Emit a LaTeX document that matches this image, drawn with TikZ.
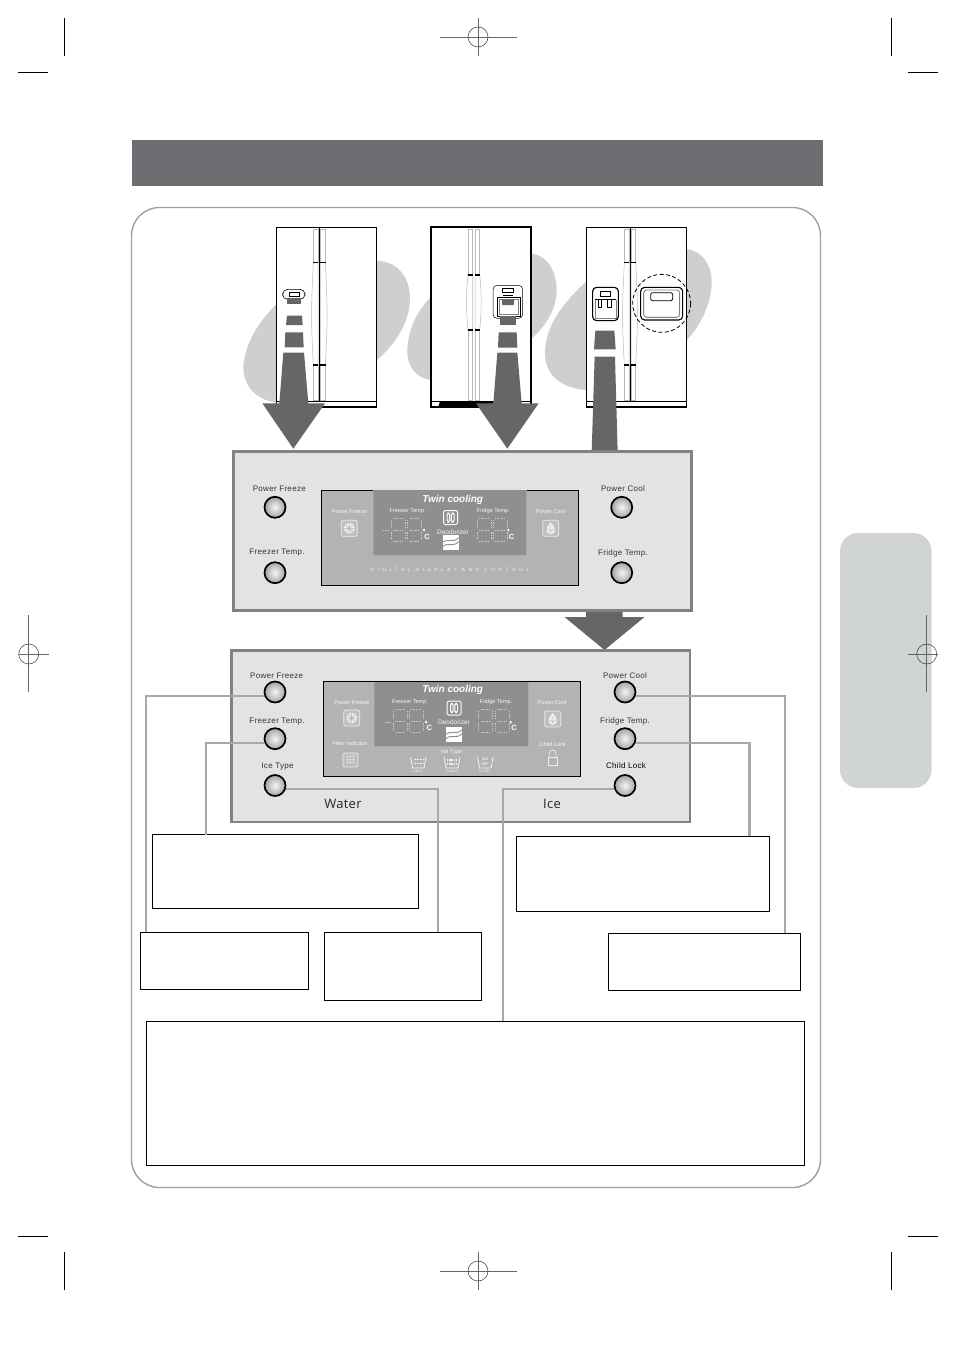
\documentclass[tikz,border=0pt]{standalone}
\usepackage{fontspec}
\setmainfont{Liberation Sans}
\newfontfamily\lblfont[LetterSpace=4]{Liberation Sans}
\newfontfamily\widefont[LetterSpace=75]{Liberation Sans}
\newfontfamily\pfont[LetterSpace=2]{Open Sans}
\definecolor{arrowgrey}{HTML}{666666}
\definecolor{blobgrey}{HTML}{CFCFCF}
\definecolor{panelfill}{HTML}{E3E3E3}
\definecolor{panelline}{HTML}{828282}
\definecolor{dispfill}{HTML}{B3B3B3}
\definecolor{dispdark}{HTML}{8F8F8F}
\definecolor{headbar}{HTML}{6D6E71}
\definecolor{tabfill}{HTML}{D1D4D4}
\definecolor{connline}{HTML}{A8A8A8}
\definecolor{disptext}{HTML}{F6F6F6}
\definecolor{segcol}{HTML}{CCCCCC}
\definecolor{edgedot}{HTML}{A4A4A4}
\tikzset{
  panelbox/.style={draw=panelline,line width=2.6pt,fill=panelfill},
  dispbox/.style={draw=black,line width=.8pt,fill=dispfill},
  btn/.style={circle,draw=black,line width=1.7pt,minimum size=21pt,inner sep=0pt,inner color=gray!8,outer color=gray!72},
  conn/.style={draw=connline,line width=2.1pt},
  notebox/.style={draw=black,line width=.5pt,fill=white,inner sep=0pt,outer sep=0pt},
  plabel/.style={font=\lblfont\fontsize{8}{9}\selectfont,text=black!80,inner sep=0pt},
  dlabel/.style={font=\fontsize{5.6}{6}\selectfont,text=disptext,inner sep=0pt},
  deolabel/.style={font=\fontsize{6.5}{7}\selectfont,text=disptext,inner sep=0pt},
  tinylabel/.style={font=\fontsize{3.4}{4}\selectfont,text=disptext,inner sep=0pt},
  cellabel/.style={font=\bfseries\fontsize{7.5}{8}\selectfont,text=white,inner sep=0pt},
  twinlabel/.style={font=\bfseries\itshape\fontsize{10}{11}\selectfont,text=white,inner sep=0pt},
  segline/.style={draw=segcol,line width=.7pt,dash pattern=on .9pt off .8pt},
  edgeline/.style={draw=edgedot,line width=.7pt,dash pattern=on .8pt off .8pt},
  iconline/.style={draw=gray!15,line width=.7pt},
  handleline/.style={draw=gray!55,line width=.5pt},
  tick/.style={draw=black,line width=1.1pt},
  cropmark/.style={draw=black,line width=.8pt},
  regline/.style={draw=gray!80!black,line width=.7pt},
  regring/.style={draw=black!80,line width=.5pt,dash pattern=on 1.3pt off .2pt},
}
\newcount\tcnt
\newcommand\lbl[3][plabel]{\global\advance\tcnt by 1 \node[#1] (t\the\tcnt) at (#2) {#3};}
% dotted digit: x,y,w,h
\newcommand\segdigit[4]{\draw[segline]
  (#1+2,#2) -- (#1+#3-2,#2) (#1+2,#2+#4/2) -- (#1+#3-2,#2+#4/2) (#1+2,#2+#4) -- (#1+#3-2,#2+#4)
  (#1,#2+1.5) -- (#1,#2+#4/2-1.5) (#1,#2+#4/2+1.5) -- (#1,#2+#4-1.5)
  (#1+#3,#2+1.5) -- (#1+#3,#2+#4/2-1.5) (#1+#3,#2+#4/2+1.5) -- (#1+#3,#2+#4-1.5);}
\newcommand\regmark[2]{\draw[regline] (#1-10,#2) -- (#1+20,#2) (#1,#2-39) -- (#1,#2+38);\draw[regring] (#1,#2) circle (10);}
\newcommand\regmarkc[2]{\draw[regline] (#1-38,#2) -- (#1+39,#2) (#1,#2-19) -- (#1,#2+19);\draw[regring] (#1,#2) circle (10);}
\newcommand\regmarkr[2]{\draw[regline] (#1-19,#2) -- (#1+11,#2) (#1,#2-39) -- (#1,#2+38);\draw[regring] (#1,#2) circle (10);}
\newcommand\flakeicon[2]{%
  \draw[iconline,fill=gray!50,rounded corners=2pt] (#1-8,#2-8) rectangle (#1+8,#2+8);
  \fill[gray!15] (#1,#2) circle (5.5);
  \draw[gray!60,line width=.5pt] (#1-5,#2) -- (#1+5,#2) (#1,#2-5) -- (#1,#2+5) (#1-3.5,#2-3.5) -- (#1+3.5,#2+3.5) (#1-3.5,#2+3.5) -- (#1+3.5,#2-3.5);}
\newcommand\dropicon[2]{%
  \draw[iconline,fill=gray!50,rounded corners=2pt] (#1-8,#2-8) rectangle (#1+8,#2+8);
  \fill[gray!15] (#1,#2-6) .. controls (#1+7,#2+1) and (#1+4,#2+6) .. (#1,#2+6) .. controls (#1-4,#2+6) and (#1-7,#2+1) .. (#1,#2-6) -- cycle;
  \draw[gray!60,line width=.4pt] (#1,#2-3) -- (#1,#2+5) (#1-3,#2+1) -- (#1,#2+3) -- (#1+3,#2+1);}
\newcommand\deoicon[2]{%
  \draw[draw=white,line width=1pt,rounded corners=1.5pt] (#1-7,#2-7) rectangle (#1+7,#2+7);
  \draw[white,line width=1pt,rounded corners=1.5pt] (#1-3.5,#2-4.5) rectangle (#1-.8,#2+4.5) (#1+.8,#2-4.5) rectangle (#1+3.5,#2+4.5);}
\newcommand\swoosh[2]{%
  \fill[white] (#1-8,#2-7.5) rectangle (#1+8,#2+7.5);
  \draw[dispdark,line width=.9pt] (#1-8,#2-.5) .. controls (#1-3,#2-5) and (#1+2,#2+1) .. (#1+8,#2-5)
     (#1-8,#2+4) .. controls (#1-3,#2-1) and (#1+2,#2+5) .. (#1+8,#2-1);}
\newcommand\tempblock[3]{\segdigit{#1}{#2}{14}{23}\segdigit{#3}{#2}{14}{23}}
\begin{document}
\begin{tikzpicture}[x=1pt,y=-1pt]
\useasboundingbox (0,0) rectangle (954,1351);
\fill[white] (0,0) rectangle (954,1351);

% side tab and header
\fill[tabfill,rounded corners=18pt] (840,533) rectangle (931.5,788);
\fill[headbar] (132,140) rectangle (823,186);

% frame
\draw[draw=gray!75,line width=1.4pt,rounded corners=28pt] (131.5,207.5) rectangle (820.5,1187.5);

% crop marks
\draw[cropmark] (64,18) -- (64,56) (18,72) -- (48,72) (891,18) -- (891,56) (908,72) -- (938,72);
\draw[cropmark] (64,1252) -- (64,1290) (18,1236) -- (48,1236) (891,1252) -- (891,1290) (908,1236) -- (938,1236);
\regmarkc{478}{37}
\regmarkc{478}{1271}
\regmark{28.7}{654}
\regmarkr{926.7}{654}

% fridges, drawn in zoom coordinates of the top region
\begin{scope}[shift={(230,210)},scale=0.33333]
  \fill[blobgrey] (40,470) .. controls (45,390) and (100,320) .. (139,283) .. controls (230,200) and (350,150) .. (440,152) .. controls (510,155) and (540,210) .. (540,265) .. controls (540,340) and (490,410) .. (440,450) .. controls (350,530) and (240,590) .. (139,578) .. controls (80,570) and (40,530) .. (40,470) -- cycle;
  \fill[blobgrey] (532,420) .. controls (535,350) and (565,300) .. (602,262) .. controls (680,190) and (800,130) .. (905,132) .. controls (955,135) and (980,190) .. (980,240) .. controls (980,300) and (945,350) .. (905,385) .. controls (820,460) and (700,520) .. (602,510) .. controls (560,505) and (530,470) .. (532,420) -- cycle;
  \fill[blobgrey] (945,430) .. controls (945,340) and (1010,270) .. (1068,215) .. controls (1150,150) and (1280,115) .. (1370,118) .. controls (1420,122) and (1445,170) .. (1445,215) .. controls (1445,280) and (1410,350) .. (1370,390) .. controls (1290,470) and (1180,550) .. (1068,540) .. controls (1000,535) and (945,500) .. (945,430) -- cycle;
  % fridge 1
  \draw[black,line width=.8pt,fill=white] (139,52) rectangle (440,590);
  \draw[black,line width=.8pt] (139,575) -- (440,575);
  \draw[black,line width=1.8pt] (139,590) -- (440,590);
  \draw[black,line width=.6pt] (268,52) -- (268,575);
  \draw[handleline] (250,58) rectangle (264,158) (272,58) rectangle (286,158) (250,465) rectangle (264,570) (272,465) rectangle (286,570);
  \draw[handleline] (250,158) .. controls (243,300) and (243,330) .. (250,465) (264,158) -- (264,465) (272,158) -- (272,465) (286,158) .. controls (293,300) and (293,330) .. (286,465);
  \draw[tick] (249,158) -- (265,158) (271,158) -- (287,158) (249,465) -- (265,465) (271,465) -- (287,465);
  \draw[black,line width=.6pt,fill=white,rounded corners=5pt] (158,238) rectangle (225,268);
  \draw[black,line width=.7pt] (178,246) rectangle (208,260);
  % fridge 2
  \draw[black,line width=2pt,fill=white] (602,50) rectangle (904,590);
  \fill[black] (630,575) -- (790,575) -- (790,590) -- (625,590) -- cycle;
  \draw[black,line width=.6pt] (602,575) -- (904,575);
  \draw[handleline] (714,58) rectangle (728,195) (735,58) rectangle (749,195) (714,360) rectangle (728,570) (735,360) rectangle (749,570);
  \draw[handleline] (714,195) .. controls (708,250) and (708,300) .. (714,360) (728,195) -- (728,360) (735,195) -- (735,360) (749,195) .. controls (755,250) and (755,300) .. (749,360);
  \draw[tick] (713,195) -- (729,195) (734,195) -- (750,195) (713,360) -- (729,360) (734,360) -- (750,360);
  \draw[black,line width=.5pt,fill=white,rounded corners=4pt] (789,226) rectangle (878,325);
  \draw[black,line width=.8pt] (818,236) rectangle (850,248);
  \draw[black,line width=.5pt] (818,256) -- (850,256);
  \draw[black,line width=.9pt,fill=white] (802,262) rectangle (870,318);
  \draw[gray,line width=.4pt] (808,268) rectangle (864,312);
  \fill[arrowgrey] (815,268) -- (853,268) -- (851,285) -- (817,285) -- cycle;
  % fridge 3
  \draw[black,line width=.8pt,fill=white] (1069,52) rectangle (1370,590);
  \draw[black,line width=.8pt] (1069,575) -- (1370,575);
  \draw[black,line width=1.8pt] (1069,590) -- (1370,590);
  \draw[black,line width=.6pt] (1200,52) -- (1200,575);
  \draw[handleline] (1183,58) rectangle (1197,158) (1203,58) rectangle (1217,158) (1183,465) rectangle (1197,570) (1203,465) rectangle (1217,570);
  \draw[handleline] (1183,158) .. controls (1176,300) and (1176,330) .. (1183,465) (1197,158) -- (1197,465) (1203,158) -- (1203,465) (1217,158) .. controls (1224,300) and (1224,330) .. (1217,465);
  \draw[tick] (1182,158) -- (1198,158) (1202,158) -- (1218,158) (1182,465) -- (1198,465) (1202,465) -- (1218,465);
  \draw[black,line width=1.1pt,fill=white,rounded corners=4pt] (1088,232) rectangle (1165,332);
  \draw[black,line width=.5pt] (1110,245) rectangle (1140,258) (1094,267) -- (1159,267);
  \draw[gray,line width=.4pt] (1095,270) -- (1095,325) -- (1158,325) -- (1158,270);
  \draw[black,line width=.8pt] (1105,270) -- (1105,292) -- (1115,292) -- (1115,270) (1133,270) -- (1133,292) -- (1143,292) -- (1143,270);
  \draw[black,line width=1.1pt,fill=white,rounded corners=4pt] (1232,232) rectangle (1358,330);
  \draw[gray,line width=.9pt,rounded corners=3pt] (1241,240) rectangle (1349,322);
  \draw[black,line width=.8pt,rounded corners=2pt] (1262,248) rectangle (1328,272);
  \draw[black,line width=.8pt,dash pattern=on 4pt off 2.4pt] (1295,280) circle (87);
  % arrows
  \fill[arrowgrey] (172,265) -- (214,265) -- (214,283) -- (172,283) -- cycle;
  \fill[arrowgrey] (171,317) -- (216,317) -- (218,345) -- (168,345) -- cycle;
  \fill[arrowgrey] (166,367) -- (219,367) -- (221,412) -- (164,412) -- cycle;
  \fill[arrowgrey] (160,428) -- (222,428) -- (235,580) -- (285,580) -- (190,716) -- (97,580) -- (148,580) -- cycle;
  \fill[arrowgrey] (811,318) -- (858,318) -- (858,344) -- (811,344) -- cycle;
  \fill[arrowgrey] (806,367) -- (860,367) -- (862,413) -- (804,413) -- cycle;
  \fill[arrowgrey] (802,428) -- (862,428) -- (875,580) -- (926,580) -- (832,716) -- (738,580) -- (790,580) -- cycle;
  \fill[arrowgrey] (1096,362) -- (1153,362) -- (1157,418) -- (1092,418) -- cycle;
  \fill[arrowgrey] (1094,440) -- (1155,440) -- (1163,725) -- (1085,725) -- cycle;
\end{scope}

% panel 1
\draw[panelbox] (233.3,451.5) rectangle (691.5,610.7);
\fill[arrowgrey] (586,612) -- (622.7,612) -- (622.7,617) -- (644.5,617) -- (604.5,650) -- (564.5,617) -- (586,617) -- cycle;
\draw[dispbox] (321.3,490) rectangle (578.7,585);
\fill[dispdark] (373.3,490.4) rectangle (526,555);
\draw[edgeline] (373.3,490.4) -- (373.3,555) -- (526,555) -- (526,490.4);
\node[btn] (a1) at (275,507.3) {};
\node[btn] (a2) at (275,572.7) {};
\node[btn] (a3) at (621.7,507.3) {};
\node[btn] (a4) at (621.7,572.7) {};
\lbl{279.3,488.7}{Power Freeze}
\lbl{277,553}{Freezer Temp.}
\lbl{623,488.7}{Power Cool}
\lbl{623,553}{Fridge Temp.}
\lbl[twinlabel]{452.7,499.5}{Twin cooling}
\lbl[dlabel]{349.3,511.5}{Power Freeze}
\lbl[dlabel]{407.7,511.5}{Freezer Temp.}
\lbl[dlabel]{493.3,511.5}{Fridge Temp.}
\lbl[dlabel]{550.7,511.5}{Power Cool}
\lbl[deolabel]{453,532.3}{Deodorizer}
\flakeicon{349.3}{528.3}
\dropicon{550.7}{528.3}
\deoicon{450.5}{517.5}
\swoosh{450.7}{542.7}
\tempblock{391}{518.5}{407.5}
\tempblock{477}{518.5}{493}
\draw[segline] (383,530) -- (388.5,530);
\fill[white] (424,530) circle (1.3) (508.3,530) circle (1.3);
\lbl[cellabel]{427,537.3}{C}
\lbl[cellabel]{511.7,537.3}{C}
\lbl[{font=\widefont\fontsize{4.8}{5}\selectfont,text=disptext,inner sep=0pt}]{450,570}{DIGITAL DISPLAY AND CONTROL}

% panel 2
\draw[panelbox] (231.7,650.3) rectangle (690,822);
\draw[dispbox] (323.3,681.3) rectangle (580.7,776.3);
\fill[dispdark] (374,681.7) rectangle (528.3,746.3);
\draw[edgeline] (374,681.7) -- (374,746.3) -- (528.3,746.3) -- (528.3,681.7);
\lbl[twinlabel]{452.7,689.5}{Twin cooling}
\lbl[dlabel]{351.7,702.3}{Power Freeze}
\lbl[dlabel]{410,702.3}{Freezer Temp.}
\lbl[dlabel]{496,702.3}{Fridge Temp.}
\lbl[dlabel]{552,702.3}{Power Cool}
\lbl[deolabel]{454,722}{Deodorizer}
\lbl[dlabel]{350,743.7}{Filter Indicator}
\lbl[dlabel]{552.7,744.7}{Child Lock}
\lbl[dlabel]{451.7,752.3}{Ice Type}
\flakeicon{351.7}{718}
\dropicon{552.7}{719}
\deoicon{454}{708}
\swoosh{454}{734.7}
\tempblock{393.3}{709.7}{409}
\tempblock{478.5}{709.7}{495}
\draw[segline] (385,722) -- (391.5,722);
\fill[white] (426,722) circle (1.3) (510.7,722) circle (1.3);
\lbl[cellabel]{429.3,728}{C}
\lbl[cellabel]{514,728}{C}
% filter icon
\draw[iconline,fill=gray!50,rounded corners=2pt] (343,753) rectangle (358,767);
\foreach \i in {-3,0,3} \foreach \j in {-3,0,3} \fill[gray!10] (350.5+\i,759.5+\j) circle (.8);
% lock icon
\draw[iconline] (548,757) rectangle (557,765);
\draw[iconline] (549,757) -- (549,753.5) arc[start angle=180,end angle=360,radius=3.5] -- (556,757);
% ice icons
\draw[gray!10,line width=.8pt] (410.5,757) -- (412.5,768) -- (424,768) -- (426,757);
\draw[gray!10,line width=1pt,dash pattern=on 2pt off 1pt] (413.5,759) -- (423,759) (413.5,763) -- (423,763);
\draw[gray!10,line width=.8pt] (444,757) -- (446,768) -- (458,768) -- (460,757);
\draw[gray!10,line width=2pt,dash pattern=on 1.4pt off .8pt] (447,760) -- (457,760) (447,764) -- (457,764);
\draw[gray!10,line width=.8pt] (477.5,757) -- (479.5,768) -- (491,768) -- (493,757);
\lbl[{font=\bfseries\fontsize{3.6}{4}\selectfont,text=disptext,inner sep=0pt}]{485,759.5}{ICE}
\lbl[{font=\bfseries\fontsize{3.6}{4}\selectfont,text=disptext,inner sep=0pt}]{485,764}{OFF}
\lbl[tinylabel]{416.7,771}{Cubed}
\lbl[tinylabel]{451.7,771}{Crushed}
\lbl[tinylabel]{484,771}{Ice Off}
% panel 2 labels
\lbl{276.7,675.3}{Power Freeze}
\lbl{277,721.5}{Freezer Temp.}
\lbl{277.5,767}{Ice Type}
\lbl{625,675.3}{Power Cool}
\lbl{625,721.5}{Fridge Temp.}
\lbl[{font=\lblfont\fontsize{8}{9}\selectfont,text=black,inner sep=0pt}]{626,765.3}{Child Lock}
\lbl[{font=\pfont\fontsize{13}{14}\selectfont,text=black!85,inner sep=0pt}]{343,803.5}{Water}
\lbl[{font=\pfont\fontsize{13}{14}\selectfont,text=black!85,inner sep=0pt}]{552,803.5}{Ice}

% note boxes
\node[notebox,minimum width=266pt,minimum height=74pt] (noteA) at (285,871.5) {};
\node[notebox,minimum width=253.5pt,minimum height=75pt] (noteB) at (642.75,873.5) {};
\node[notebox,minimum width=168.5pt,minimum height=57.5pt] (noteC) at (224.25,960.75) {};
\node[notebox,minimum width=157.5pt,minimum height=68.5pt] (noteD) at (402.75,966.25) {};
\node[notebox,minimum width=192.5pt,minimum height=57.5pt] (noteE) at (704.25,961.75) {};
\node[notebox,minimum width=658.5pt,minimum height=143.5pt] (noteF) at (475.25,1093) {};

% panel 2 buttons
\node[btn] (b1) at (275,692) {};
\node[btn] (b2) at (275,738.7) {};
\node[btn] (b3) at (275,785.5) {};
\node[btn] (b4) at (625,692) {};
\node[btn] (b5) at (625,738.7) {};
\node[btn] (b6) at (625,785.5) {};

% connectors
\draw[conn] (b1.200) -| ([xshift=6pt]noteC.north west);
\draw[conn] (b2.200) -| ([xshift=54pt]noteA.north west);
\draw[conn] (b3.340) -| ([xshift=113.7pt]noteD.north west);
\draw[conn] (b4.340) -| ([xshift=-15.5pt]noteE.north east);
\draw[conn] (b5.340) -| ([xshift=-20pt]noteB.north east);
\draw[conn] (b6.200) -| ([xshift=357pt]noteF.north west);
\end{tikzpicture}
\end{document}
